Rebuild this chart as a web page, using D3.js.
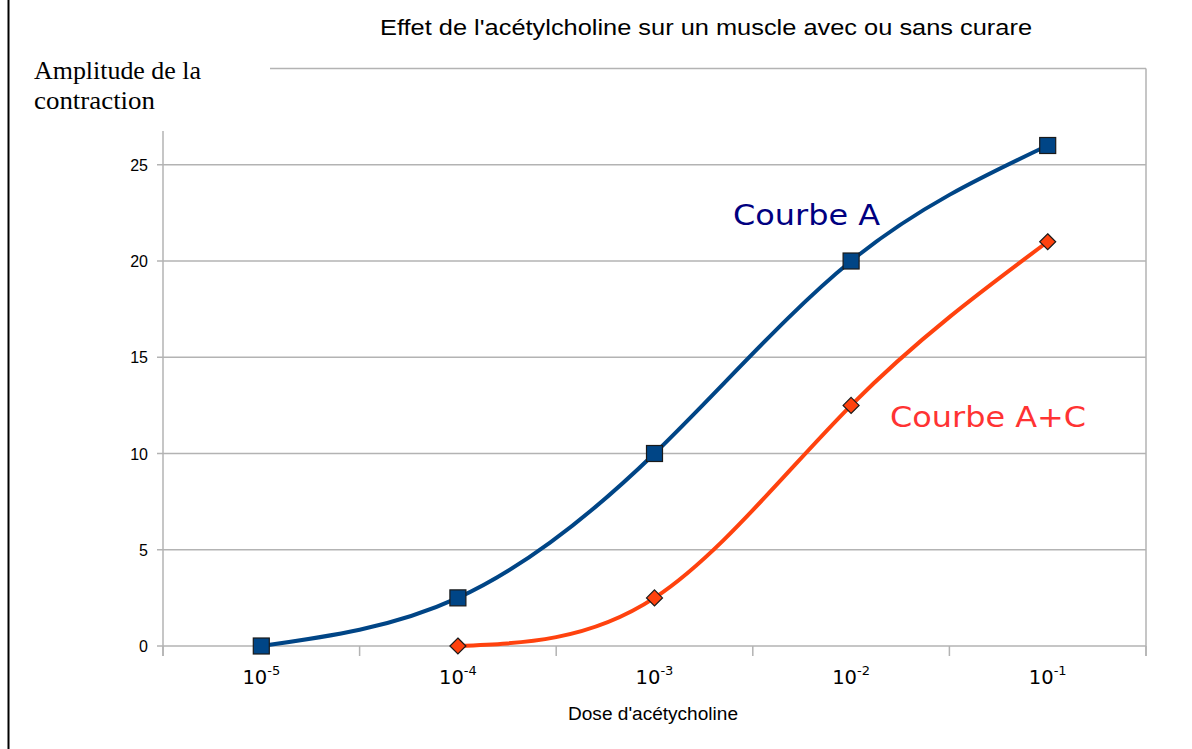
<!DOCTYPE html>
<html><head><meta charset="utf-8">
<script src="https://cdn.jsdelivr.net/npm/d3@7"></script>
<style>body{margin:0;background:#fff}svg{display:block}</style>
</head><body>
<script>
const exponents = [-5, -4, -3, -2, -1];
const curveA = [0, 2.5, 10, 20, 26];
const curveAC_exp = [-4, -3, -2, -1];
const curveAC = [0, 2.5, 12.5, 21];
const yTicks = [0, 5, 10, 15, 20, 25, 30];
const xBoundaries = [-5.5, -4.5, -3.5, -2.5, -1.5, -0.5];

const W = 1192, H = 749;
const svg = d3.select("body").append("svg").attr("width", W).attr("height", H);

const x = d3.scaleLinear().domain([-5.5, -0.5]).range([163, 1146]);
const y = d3.scaleLinear().domain([0, 30]).range([646, 68.5]);

// frame line
svg.append("line").attr("x1", 8.5).attr("x2", 8.5).attr("y1", 0).attr("y2", H)
  .attr("stroke", "#000").attr("stroke-width", 2);

// gridlines
svg.append("g").selectAll("line").data(yTicks).join("line")
  .attr("x1", x(-5.5) - 6).attr("x2", x(-0.5))
  .attr("y1", d => y(d)).attr("y2", d => y(d))
  .attr("stroke", "#b3b3b3").attr("stroke-width", 1.5);
// y axis line and right border
svg.append("line").attr("x1", x(-5.5)).attr("x2", x(-5.5)).attr("y1", y(30)).attr("y2", y(0) + 10)
  .attr("stroke", "#b3b3b3").attr("stroke-width", 1.5);
svg.append("line").attr("x1", x(-0.5)).attr("x2", x(-0.5)).attr("y1", y(30)).attr("y2", y(0) + 10)
  .attr("stroke", "#b3b3b3").attr("stroke-width", 1.5);
// x ticks
svg.append("g").selectAll("line").data(xBoundaries).join("line")
  .attr("x1", d => x(d)).attr("x2", d => x(d)).attr("y1", y(0)).attr("y2", y(0) + 10)
  .attr("stroke", "#b3b3b3").attr("stroke-width", 1.5);

// y tick labels
svg.append("g").selectAll("text").data(yTicks.filter(d => d < 30)).join("text")
  .attr("x", 148).attr("y", d => y(d) + 6)
  .attr("text-anchor", "end").attr("font-family", "Liberation Sans, Arial, sans-serif")
  .attr("font-size", 16).attr("fill", "#000").text(d => d);

// x tick labels with superscript
const xl = svg.append("g").selectAll("text").data(exponents).join("text")
  .attr("x", d => x(d)).attr("y", 684).attr("text-anchor", "middle")
  .attr("font-family", "DejaVu Sans, Verdana, sans-serif").attr("font-size", 19.5).attr("fill", "#000");
xl.append("tspan").text("10");
xl.append("tspan").attr("font-size", 13).attr("dy", -9).text(d => d);

// axis title
svg.append("text").attr("x", 653).attr("y", 720).attr("text-anchor", "middle")
  .attr("font-family", "Liberation Sans, Arial, sans-serif").attr("font-size", 18)
  .attr("textLength", 170).attr("lengthAdjust", "spacingAndGlyphs")
  .attr("fill", "#000").text("Dose d'acétycholine");

// title
svg.append("text").attr("x", 706).attr("y", 35).attr("text-anchor", "middle")
  .attr("font-family", "Liberation Sans, Arial, sans-serif").attr("font-size", 22)
  .attr("textLength", 652).attr("lengthAdjust", "spacingAndGlyphs")
  .attr("fill", "#000").text("Effet de l'acétylcholine sur un muscle avec ou sans curare");

// white box for y label
svg.append("rect").attr("x", 20).attr("y", 50).attr("width", 250).attr("height", 81).attr("fill", "#fff");
const yl = svg.append("text").attr("font-family", "Liberation Serif, Times New Roman, serif")
  .attr("font-size", 26).attr("fill", "#000");
yl.append("tspan").attr("x", 34).attr("y", 79).attr("textLength", 167).attr("lengthAdjust", "spacingAndGlyphs").text("Amplitude de la");
yl.append("tspan").attr("x", 34).attr("y", 109).attr("textLength", 121).attr("lengthAdjust", "spacingAndGlyphs").text("contraction");

// curves
const line = d3.line().x(d => x(d[0])).y(d => y(d[1])).curve(d3.curveNatural);
const dataA = exponents.map((e, i) => [e, curveA[i]]);
const dataAC = curveAC_exp.map((e, i) => [e, curveAC[i]]);

svg.append("path").datum(dataA).attr("d", line).attr("fill", "none")
  .attr("stroke", "#004586").attr("stroke-width", 4);
svg.append("path").datum(dataAC).attr("d", line).attr("fill", "none")
  .attr("stroke", "#ff420e").attr("stroke-width", 4);

// markers
svg.append("g").selectAll("rect").data(dataA).join("rect")
  .attr("x", d => x(d[0]) - 8).attr("y", d => y(d[1]) - 8)
  .attr("width", 16).attr("height", 16)
  .attr("fill", "#004586").attr("stroke", "#1a1a1a").attr("stroke-width", 1.2);
svg.append("g").selectAll("path").data(dataAC).join("path")
  .attr("d", d => { const cx = x(d[0]), cy = y(d[1]), r = 8; return `M${cx},${cy-r}L${cx+r},${cy}L${cx},${cy+r}L${cx-r},${cy}Z`; })
  .attr("fill", "#ff420e").attr("stroke", "#1a1a1a").attr("stroke-width", 1.2);

// annotations
svg.append("text").attr("x", 733).attr("y", 225).attr("font-family", "DejaVu Sans, Verdana, sans-serif")
  .attr("font-size", 29).attr("textLength", 147).attr("lengthAdjust", "spacingAndGlyphs")
  .attr("fill", "#000080").text("Courbe A");
svg.append("text").attr("x", 890).attr("y", 427).attr("font-family", "DejaVu Sans, Verdana, sans-serif")
  .attr("font-size", 29).attr("textLength", 196).attr("lengthAdjust", "spacingAndGlyphs")
  .attr("fill", "#ff3333").text("Courbe A+C");
</script>
</body></html>
